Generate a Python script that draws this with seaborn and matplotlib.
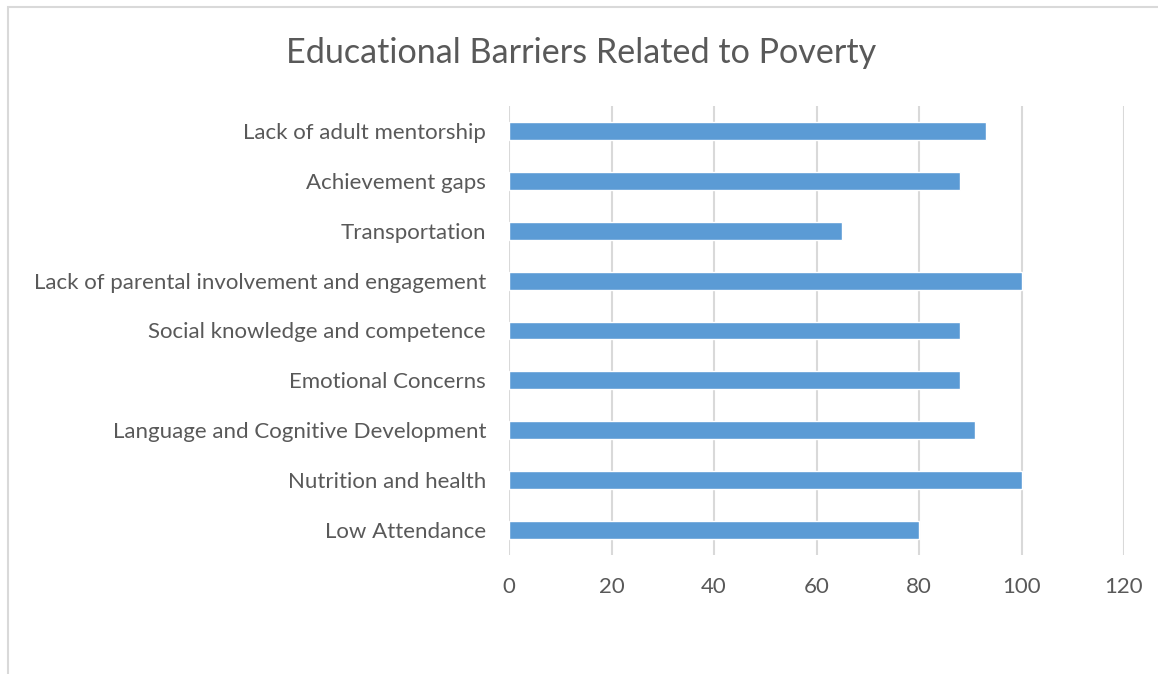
import matplotlib
matplotlib.use("Agg")
import matplotlib.pyplot as plt
import seaborn as sns
import pandas as pd
from matplotlib.patches import Rectangle

categories = [
    "Lack of adult mentorship",
    "Achievement gaps",
    "Transportation",
    "Lack of parental involvement and engagement",
    "Social knowledge and competence",
    "Emotional Concerns",
    "Language and Cognitive Development",
    "Nutrition and health",
    "Low Attendance",
]
values = [93, 88, 65, 100, 88, 88, 91, 100, 80]
x_ticks = [0, 20, 40, 60, 80, 100, 120]
title = "Educational Barriers Related to Poverty"

df = pd.DataFrame({"category": categories, "value": values})

sns.set_theme(style="white")
plt.rcParams["font.family"] = ["Lato", "DejaVu Sans"]

W, H = 1158, 674
fig = plt.figure(figsize=(W / 100, H / 100), dpi=100)
ax = fig.add_axes([509 / W, 1 - 555 / H, (1124 - 509) / W, (555 - 106) / H])

sns.barplot(data=df, x="value", y="category", order=categories, color="#5B9BD5",
            width=0.36, saturation=1, ax=ax, orient="h")

ax.set_xlim(0, 120)
ax.set_xticks(x_ticks)
ax.set_xticklabels([str(t) for t in x_ticks])
ax.set_xlabel("")
ax.set_ylabel("")
ax.grid(axis="x", color="#d9d9d9", linewidth=1.5)
ax.grid(axis="y", visible=False)
ax.set_axisbelow(True)
for s in ax.spines.values():
    s.set_visible(False)
ax.tick_params(axis="x", length=0, pad=16, labelsize=16, labelcolor="#595959")
ax.tick_params(axis="y", length=0, pad=16.5, labelsize=16, labelcolor="#595959")

fig.text(0.5 + 0.0015, 1 - 53 / H, title, ha="center", va="center", fontsize=24.6, color="#595959")

border = Rectangle((8 / W, -1), 2, 2 - 7 / H, transform=fig.transFigure, fill=False,
                   edgecolor="#d9d9d9", linewidth=1.5)
fig.patches.append(border)

fig.savefig("out.png", dpi=100, facecolor="white")
